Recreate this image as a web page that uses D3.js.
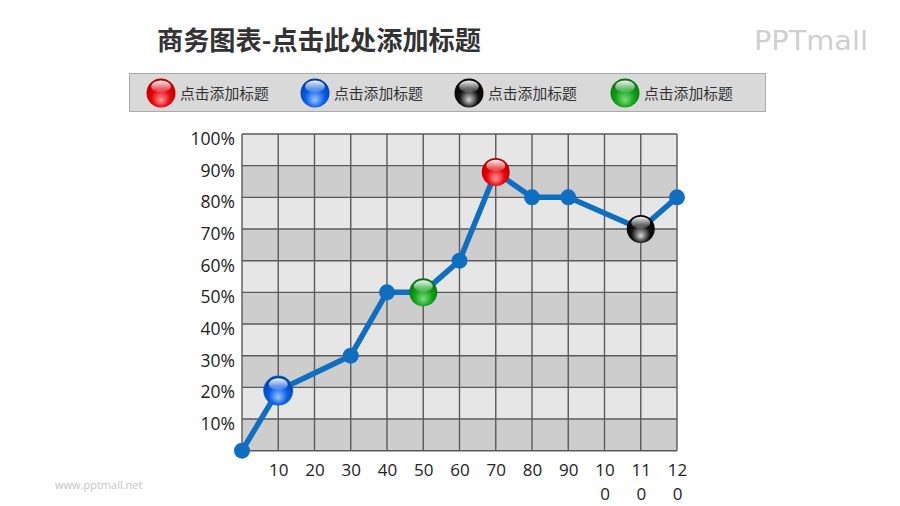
<!DOCTYPE html>
<html><head><meta charset="utf-8">
<script src="https://cdn.jsdelivr.net/npm/d3@7"></script>
<style>
html,body{margin:0;padding:0;background:#fff;}
svg{display:block;}
</style></head>
<body>
<svg id="chart" width="900" height="506"></svg>
<script>
const title = "商务图表-点击此处添加标题";
const legendLabels = ["点击添加标题","点击添加标题","点击添加标题","点击添加标题"];
const legendColors = ["red","blue","black","green"];
const xTickLabels = ["10","20","30","40","50","60","70","80","90","100","110","120"];
const xTickValues = [10,20,30,40,50,60,70,80,90,100,110,120];
const yTickValues = [10,20,30,40,50,60,70,80,90,100];
const pointX = [0,10,30,40,50,60,70,80,90,110,120];
const pointY = [0,19,30,50,50,60,88,80,80,70,80];
const specialX = [70,10,110,50];
const specialColor = ["red","blue","black","green"];

const palette = {
  red:   {base:"#e8000a", light:"#ff9a9a", dark:"#b00000"},
  blue:  {base:"#0a5ee8", light:"#9cc4ff", dark:"#003aa8"},
  black: {base:"#111111", light:"#d8d8d8", dark:"#000000"},
  green: {base:"#10a018", light:"#7fdc7f", dark:"#067010"}
};

const svg = d3.select("#chart");
const defs = svg.append("defs");
Object.entries(palette).forEach(([k,c])=>{
  const g = defs.append("radialGradient").attr("id","ball-"+k)
    .attr("cx","50%").attr("cy","62%").attr("r","60%").attr("fx","50%").attr("fy","75%");
  g.append("stop").attr("offset","0%").attr("stop-color",c.light);
  g.append("stop").attr("offset","55%").attr("stop-color",c.base);
  g.append("stop").attr("offset","100%").attr("stop-color",c.dark);
  const h = defs.append("linearGradient").attr("id","hl-"+k).attr("x1",0).attr("y1",0).attr("x2",0).attr("y2",1);
  h.append("stop").attr("offset","0%").attr("stop-color","#fff").attr("stop-opacity",0.95);
  h.append("stop").attr("offset","100%").attr("stop-color","#fff").attr("stop-opacity",0.1);
});

function ball(g, cx, cy, r, k){
  g.append("circle").attr("cx",cx).attr("cy",cy).attr("r",r).attr("fill","url(#ball-"+k+")");
  g.append("ellipse").attr("cx",cx).attr("cy",cy - r*0.45).attr("rx",r*0.68).attr("ry",r*0.42)
    .attr("fill","url(#hl-"+k+")");
}

// title
svg.append("text").attr("x",157).attr("y",50).text(title)
  .attr("font-family","'Noto Sans CJK SC'").attr("font-weight","bold")
  .attr("font-size",26.2).attr("fill","#333");

// logo
svg.append("text").attr("x",754).attr("y",50).text("PPTmall")
  .attr("font-family","'DejaVu Sans'").attr("font-size",27).attr("fill","#cfcfcf")
  .attr("textLength",114).attr("lengthAdjust","spacingAndGlyphs");

// watermark
svg.append("text").attr("x",55).attr("y",489).text("www.pptmall.net")
  .attr("font-family","'Open Sans'").attr("font-size",11).attr("fill","#c4c4c4");

// legend
svg.append("rect").attr("x",129.5).attr("y",73.5).attr("width",636).attr("height",38)
  .attr("fill","#d9d9d9").attr("stroke","#aaaaaa");
const legX = [161,315,469,625];
const lg = svg.append("g");
legendLabels.forEach((t,i)=>{
  ball(lg, legX[i], 93, 14.5, legendColors[i]);
  lg.append("text").attr("x",legX[i]+19).attr("y",98.5).text(t)
    .attr("font-family","'Noto Sans CJK SC'").attr("font-size",14.8).attr("fill","#333");
});

// scales
const x = d3.scaleLinear().domain([0,120]).range([242,677]);
const y = d3.scaleLinear().domain([0,100]).range([450.7,134]);

// bands
const bands = d3.range(0,100,10);
svg.append("g").selectAll("rect").data(bands).join("rect")
  .attr("x",x(0)).attr("width",x(120)-x(0))
  .attr("y",d=>y(d+10)).attr("height",d=>y(d)-y(d+10))
  .attr("fill",d=>(d/10)%2===0?"#cdcdcd":"#e6e6e6");

// grid
const grid = svg.append("g").attr("stroke","#5a5a5a").attr("stroke-width",1.4);
grid.selectAll("line.v").data([0].concat(xTickValues)).join("line").attr("class","v")
  .attr("x1",d=>x(d)).attr("x2",d=>x(d)).attr("y1",y(100)).attr("y2",y(0));
grid.selectAll("line.h").data([0].concat(yTickValues)).join("line").attr("class","h")
  .attr("y1",d=>y(d)).attr("y2",d=>y(d)).attr("x1",x(0)).attr("x2",x(120));

// y axis labels
const yAxis = d3.axisLeft(y).tickValues(yTickValues).tickSize(0).tickPadding(0)
  .tickFormat(d=>d+"%");
const ya = svg.append("g").attr("transform","translate(235,0)").call(yAxis);
ya.select(".domain").remove();
ya.selectAll("text").attr("font-family","'Open Sans'").attr("font-size",17.5)
  .attr("fill","#222").attr("dy","0.32em").attr("transform","translate(0,5)");

// x axis labels
const xAxis = d3.axisBottom(x).tickValues(xTickValues).tickSize(0).tickPadding(0)
  .tickFormat((d,i)=>xTickLabels[i]);
const xa = svg.append("g").attr("transform","translate(0,464)").call(xAxis);
xa.select(".domain").remove();
xa.selectAll("text").attr("font-family","'Open Sans'").attr("font-size",17).attr("fill","#222")
  .each(function(d,i){
    const t = xTickLabels[i];
    const el = d3.select(this);
    if (t.length>2){
      el.text(null);
      el.append("tspan").attr("x",0).attr("dy","0.71em").text(t.slice(0,2));
      el.append("tspan").attr("x",0).attr("dy","1.38em").text(t.slice(2));
    } else {
      el.attr("dy","0.71em");
    }
  });

// line
const pts = pointX.map((v,i)=>({x:v,y:pointY[i]}));
svg.append("path").datum(pts)
  .attr("d",d3.line().x(d=>x(d.x)).y(d=>y(d.y)))
  .attr("fill","none").attr("stroke","#0f6ec0").attr("stroke-width",5.5)
  .attr("stroke-linejoin","round");
svg.append("g").selectAll("circle").data(pts.filter(p=>!specialX.includes(p.x))).join("circle")
  .attr("cx",d=>x(d.x)).attr("cy",d=>y(d.y)).attr("r",8).attr("fill","#0f6ec0");
const sg = svg.append("g");
pts.forEach(p=>{
  const idx = specialX.indexOf(p.x);
  if(idx>=0){
    sg.append("circle").attr("cx",x(p.x)).attr("cy",y(p.y)).attr("r",15).attr("fill","#0f6ec0").attr("opacity", specialColor[idx]==="blue"?1:0);
    ball(sg, x(p.x), y(p.y), 14, specialColor[idx]);
  }
});
</script>
</body></html>
